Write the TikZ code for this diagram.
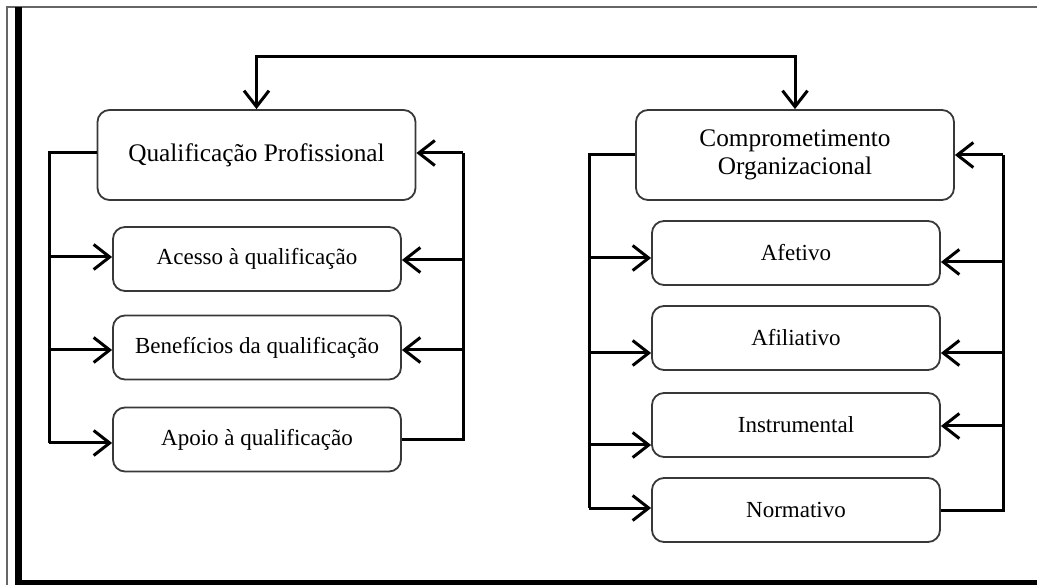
\documentclass[tikz,border=0pt]{standalone}
\usepackage{fontspec}
\setmainfont{Liberation Serif}
\usetikzlibrary{arrows.meta}
\tikzset{
  box/.style={draw=black!78, line width=1.8pt, rounded corners=12pt, inner sep=0pt, align=center},
  titlebox/.style={box, minimum width=318pt, minimum height=90pt, font=\fontsize{25.3}{28}\selectfont},
  subbox/.style={box, minimum width=288pt, minimum height=64pt, font=\fontsize{23}{27}\selectfont},
  conn/.style={line width=3pt, black},
  tip/.style={},
  arr/.style={conn, -{Straight Barb[length=16pt,width=25pt,line width=3pt]}},
  biarr/.style={conn, {Straight Barb[length=16pt,width=25pt,line width=3pt]}-{Straight Barb[length=16pt,width=25pt,line width=3pt]}}
}
\begin{document}
\begin{tikzpicture}[x=1pt,y=-1pt]
\useasboundingbox (0,0) rectangle (1037,585);
% frame
\draw[black!60, line width=1.5pt] (1037,7) -- (7,7) -- (7,585);
\draw[black, line width=7pt] (18.5,7) -- (18.5,585);
\draw[black, line width=5pt] (15,582.5) -- (1037,582.5);

% nodes
\node[titlebox] (qual) at (256.5,155) {Qualificação Profissional};
\node[titlebox] (comp) at (795,155) {Comprometimento\\Organizacional};
\node[subbox] (acesso) at (257,259) {Acesso à qualificação};
\node[subbox] (benef) at (257,347.5) {Benefícios da qualificação};
\node[subbox] (apoio) at (257,439.5) {Apoio à qualificação};
\node[subbox] (afet) at (796,253) {Afetivo};
\node[subbox] (afil) at (796,338) {Afiliativo};
\node[subbox] (instr) at (796,425) {Instrumental};
\node[subbox] (norm) at (796,510) {Normativo};

% top link
\coordinate (top) at (526,57);
\draw[biarr] (qual.north) |- (top) -| (comp.north);

% left group, left bus
\coordinate (lq) at (49,153);
\coordinate (l1) at (49,257);
\coordinate (l2) at (49,350);
\coordinate (l3) at (49,443);
\draw[conn] (qual.west |- lq) -- (lq) -- (l3);
\draw[arr] (l1) -- (acesso.west |- l1);
\draw[arr] (l2) -- (benef.west |- l2);
\draw[arr] (l3) -- (apoio.west |- l3);

% left group, right bus
\coordinate (rq) at (463,153);
\coordinate (r1) at (463,260);
\coordinate (r2) at (463,350);
\coordinate (r3) at (463,440);
\draw[conn] (apoio.east |- r3) -- (r3) -- (rq);
\draw[arr] (rq) -- (qual.east |- rq);
\draw[arr] (r1) -- (acesso.east |- r1);
\draw[arr] (r2) -- (benef.east |- r2);

% right group, left bus
\coordinate (mq) at (589,155);
\coordinate (m1) at (589,258);
\coordinate (m2) at (589,353);
\coordinate (m3) at (589,445);
\coordinate (m4) at (589,508);
\draw[conn] (comp.west |- mq) -- (mq) -- (m4);
\draw[arr] (m1) -- (afet.west |- m1);
\draw[arr] (m2) -- (afil.west |- m2);
\draw[arr] (m3) -- (instr.west |- m3);
\draw[arr] (m4) -- (norm.west |- m4);

% right group, right bus
\coordinate (nq) at (1003,155);
\coordinate (n1) at (1003,262);
\coordinate (n2) at (1003,353);
\coordinate (n3) at (1003,426);
\coordinate (n4) at (1003,510);
\draw[conn] (norm.east |- n4) -- (n4) -- (nq);
\draw[arr] (nq) -- (comp.east |- nq);
\draw[arr] (n1) -- (afet.east |- n1);
\draw[arr] (n2) -- (afil.east |- n2);
\draw[arr] (n3) -- (instr.east |- n3);
\end{tikzpicture}
\end{document}
